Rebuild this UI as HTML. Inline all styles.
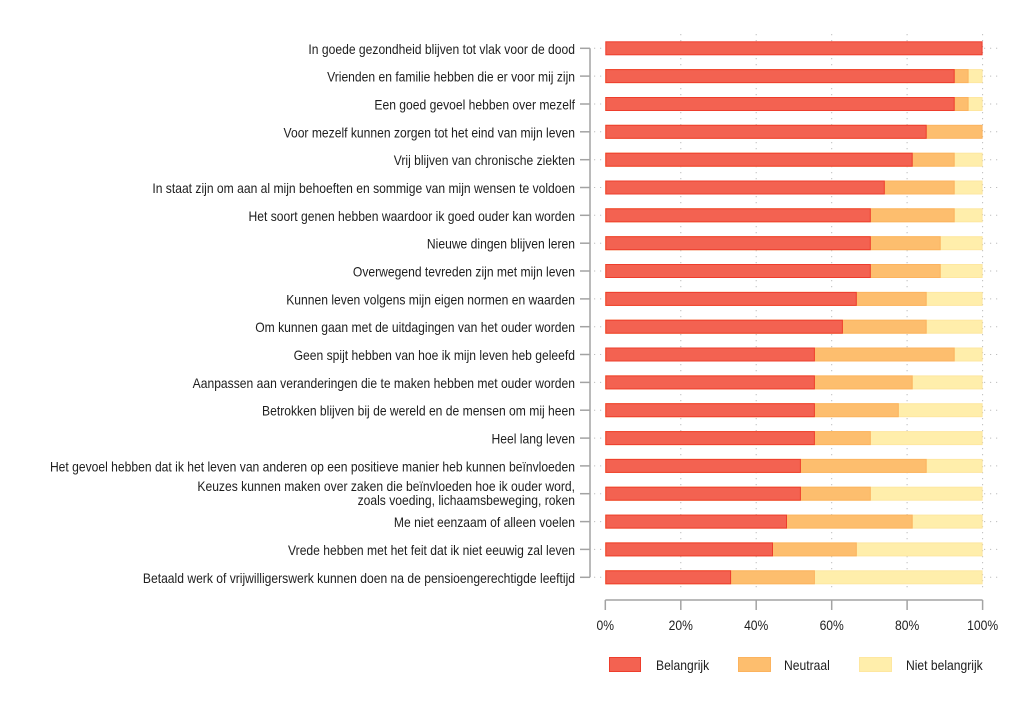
<!DOCTYPE html>
<html><head><meta charset="utf-8"><style>
html,body{margin:0;padding:0;background:#fff;}
svg{display:block;}
text{font-family:"Liberation Sans",Arial,sans-serif;font-size:14px;fill:#1e1e1e;}
</style></head><body>
<svg width="1024" height="717" viewBox="0 0 1024 717" xmlns="http://www.w3.org/2000/svg">
<rect width="1024" height="717" fill="#fff"/>
<!-- vertical grid -->
<g stroke="#bdbdbd" stroke-width="1" stroke-dasharray="1.2 4.8">
<line x1="680.8" y1="34" x2="680.8" y2="592"/>
<line x1="756.2" y1="34" x2="756.2" y2="592"/>
<line x1="831.7" y1="34" x2="831.7" y2="592"/>
<line x1="907.1" y1="34" x2="907.1" y2="592"/>
<line x1="982.6" y1="34" x2="982.6" y2="592"/>
</g>
<!-- horizontal grid -->
<g stroke="#bdbdbd" stroke-width="1" stroke-dasharray="1.2 4.8">
<line x1="594" y1="48.3" x2="1002" y2="48.3"/>
<line x1="594" y1="76.1" x2="1002" y2="76.1"/>
<line x1="594" y1="104.0" x2="1002" y2="104.0"/>
<line x1="594" y1="131.8" x2="1002" y2="131.8"/>
<line x1="594" y1="159.7" x2="1002" y2="159.7"/>
<line x1="594" y1="187.5" x2="1002" y2="187.5"/>
<line x1="594" y1="215.3" x2="1002" y2="215.3"/>
<line x1="594" y1="243.2" x2="1002" y2="243.2"/>
<line x1="594" y1="271.0" x2="1002" y2="271.0"/>
<line x1="594" y1="298.9" x2="1002" y2="298.9"/>
<line x1="594" y1="326.7" x2="1002" y2="326.7"/>
<line x1="594" y1="354.5" x2="1002" y2="354.5"/>
<line x1="594" y1="382.4" x2="1002" y2="382.4"/>
<line x1="594" y1="410.2" x2="1002" y2="410.2"/>
<line x1="594" y1="438.1" x2="1002" y2="438.1"/>
<line x1="594" y1="465.9" x2="1002" y2="465.9"/>
<line x1="594" y1="493.7" x2="1002" y2="493.7"/>
<line x1="594" y1="521.6" x2="1002" y2="521.6"/>
<line x1="594" y1="549.4" x2="1002" y2="549.4"/>
<line x1="594" y1="577.3" x2="1002" y2="577.3"/>
</g>

<!-- light (Niet belangrijk) segments -->
<g fill="#ffeeab" stroke="#fee7a0" stroke-width="1">
<rect x="605.8" y="69.6" width="376.3" height="13"/>
<rect x="605.8" y="97.5" width="376.3" height="13"/>
<rect x="605.8" y="153.2" width="376.3" height="13"/>
<rect x="605.8" y="181.0" width="376.3" height="13"/>
<rect x="605.8" y="208.8" width="376.3" height="13"/>
<rect x="605.8" y="236.7" width="376.3" height="13"/>
<rect x="605.8" y="264.5" width="376.3" height="13"/>
<rect x="605.8" y="292.4" width="376.3" height="13"/>
<rect x="605.8" y="320.2" width="376.3" height="13"/>
<rect x="605.8" y="348.0" width="376.3" height="13"/>
<rect x="605.8" y="375.9" width="376.3" height="13"/>
<rect x="605.8" y="403.7" width="376.3" height="13"/>
<rect x="605.8" y="431.6" width="376.3" height="13"/>
<rect x="605.8" y="459.4" width="376.3" height="13"/>
<rect x="605.8" y="487.2" width="376.3" height="13"/>
<rect x="605.8" y="515.1" width="376.3" height="13"/>
<rect x="605.8" y="542.9" width="376.3" height="13"/>
<rect x="605.8" y="570.8" width="376.3" height="13"/>
</g>

<!-- orange (Neutraal) segments -->
<g fill="#fdbe6e" stroke="#fcb35e" stroke-width="1">
<rect x="605.8" y="69.6" width="362.3" height="13"/>
<rect x="605.8" y="97.5" width="362.3" height="13"/>
<rect x="605.8" y="125.3" width="376.3" height="13"/>
<rect x="605.8" y="153.2" width="348.4" height="13"/>
<rect x="605.8" y="181.0" width="348.4" height="13"/>
<rect x="605.8" y="208.8" width="348.4" height="13"/>
<rect x="605.8" y="236.7" width="334.4" height="13"/>
<rect x="605.8" y="264.5" width="334.4" height="13"/>
<rect x="605.8" y="292.4" width="320.4" height="13"/>
<rect x="605.8" y="320.2" width="320.4" height="13"/>
<rect x="605.8" y="348.0" width="348.4" height="13"/>
<rect x="605.8" y="375.9" width="306.4" height="13"/>
<rect x="605.8" y="403.7" width="292.5" height="13"/>
<rect x="605.8" y="431.6" width="264.5" height="13"/>
<rect x="605.8" y="459.4" width="320.4" height="13"/>
<rect x="605.8" y="487.2" width="264.5" height="13"/>
<rect x="605.8" y="515.1" width="306.4" height="13"/>
<rect x="605.8" y="542.9" width="250.5" height="13"/>
<rect x="605.8" y="570.8" width="208.6" height="13"/>
</g>

<!-- red (Belangrijk) segments -->
<g fill="#f36251" stroke="#ee3d2c" stroke-width="1">
<rect x="605.8" y="41.8" width="376.3" height="13"/>
<rect x="605.8" y="69.6" width="348.4" height="13"/>
<rect x="605.8" y="97.5" width="348.4" height="13"/>
<rect x="605.8" y="125.3" width="320.4" height="13"/>
<rect x="605.8" y="153.2" width="306.4" height="13"/>
<rect x="605.8" y="181.0" width="278.5" height="13"/>
<rect x="605.8" y="208.8" width="264.5" height="13"/>
<rect x="605.8" y="236.7" width="264.5" height="13"/>
<rect x="605.8" y="264.5" width="264.5" height="13"/>
<rect x="605.8" y="292.4" width="250.5" height="13"/>
<rect x="605.8" y="320.2" width="236.6" height="13"/>
<rect x="605.8" y="348.0" width="208.6" height="13"/>
<rect x="605.8" y="375.9" width="208.6" height="13"/>
<rect x="605.8" y="403.7" width="208.6" height="13"/>
<rect x="605.8" y="431.6" width="208.6" height="13"/>
<rect x="605.8" y="459.4" width="194.6" height="13"/>
<rect x="605.8" y="487.2" width="194.6" height="13"/>
<rect x="605.8" y="515.1" width="180.7" height="13"/>
<rect x="605.8" y="542.9" width="166.7" height="13"/>
<rect x="605.8" y="570.8" width="124.8" height="13"/>
</g>

<!-- left axis -->
<g stroke="#a3a3a3" stroke-width="1.5" fill="none">
<line x1="590" y1="48.3" x2="590" y2="577.3"/>
<line x1="580" y1="48.3" x2="590" y2="48.3"/>
<line x1="580" y1="76.1" x2="590" y2="76.1"/>
<line x1="580" y1="104.0" x2="590" y2="104.0"/>
<line x1="580" y1="131.8" x2="590" y2="131.8"/>
<line x1="580" y1="159.7" x2="590" y2="159.7"/>
<line x1="580" y1="187.5" x2="590" y2="187.5"/>
<line x1="580" y1="215.3" x2="590" y2="215.3"/>
<line x1="580" y1="243.2" x2="590" y2="243.2"/>
<line x1="580" y1="271.0" x2="590" y2="271.0"/>
<line x1="580" y1="298.9" x2="590" y2="298.9"/>
<line x1="580" y1="326.7" x2="590" y2="326.7"/>
<line x1="580" y1="354.5" x2="590" y2="354.5"/>
<line x1="580" y1="382.4" x2="590" y2="382.4"/>
<line x1="580" y1="410.2" x2="590" y2="410.2"/>
<line x1="580" y1="438.1" x2="590" y2="438.1"/>
<line x1="580" y1="465.9" x2="590" y2="465.9"/>
<line x1="580" y1="493.7" x2="590" y2="493.7"/>
<line x1="580" y1="521.6" x2="590" y2="521.6"/>
<line x1="580" y1="549.4" x2="590" y2="549.4"/>
<line x1="580" y1="577.3" x2="590" y2="577.3"/>
</g>

<!-- bottom axis -->
<g stroke="#a3a3a3" stroke-width="1.5" fill="none">
<line x1="605.3" y1="600" x2="982.6" y2="600"/>
<line x1="605.3" y1="600" x2="605.3" y2="610"/>
<line x1="680.8" y1="600" x2="680.8" y2="610"/>
<line x1="756.2" y1="600" x2="756.2" y2="610"/>
<line x1="831.7" y1="600" x2="831.7" y2="610"/>
<line x1="907.1" y1="600" x2="907.1" y2="610"/>
<line x1="982.6" y1="600" x2="982.6" y2="610"/>
</g>
<g text-anchor="middle">
<text transform="translate(605.3,630) scale(0.866,1)">0%</text>
<text transform="translate(680.8,630) scale(0.866,1)">20%</text>
<text transform="translate(756.2,630) scale(0.866,1)">40%</text>
<text transform="translate(831.7,630) scale(0.866,1)">60%</text>
<text transform="translate(907.1,630) scale(0.866,1)">80%</text>
<text transform="translate(982.6,630) scale(0.866,1)">100%</text>
</g>

<!-- category labels -->
<g text-anchor="end" transform="translate(575,0) scale(0.866,1)">
<text x="0" y="53.8">In goede gezondheid blijven tot vlak voor de dood</text>
<text x="0" y="81.6">Vrienden en familie hebben die er voor mij zijn</text>
<text x="0" y="109.5">Een goed gevoel hebben over mezelf</text>
<text x="0" y="137.3">Voor mezelf kunnen zorgen tot het eind van mijn leven</text>
<text x="0" y="165.2">Vrij blijven van chronische ziekten</text>
<text x="0" y="193.0">In staat zijn om aan al mijn behoeften en sommige van mijn wensen te voldoen</text>
<text x="0" y="220.8">Het soort genen hebben waardoor ik goed ouder kan worden</text>
<text x="0" y="248.7">Nieuwe dingen blijven leren</text>
<text x="0" y="276.5">Overwegend tevreden zijn met mijn leven</text>
<text x="0" y="304.4">Kunnen leven volgens mijn eigen normen en waarden</text>
<text x="0" y="332.2">Om kunnen gaan met de uitdagingen van het ouder worden</text>
<text x="0" y="360.0">Geen spijt hebben van hoe ik mijn leven heb geleefd</text>
<text x="0" y="387.9">Aanpassen aan veranderingen die te maken hebben met ouder worden</text>
<text x="0" y="415.7">Betrokken blijven bij de wereld en de mensen om mij heen</text>
<text x="0" y="443.6">Heel lang leven</text>
<text x="0" y="471.4">Het gevoel hebben dat ik het leven van anderen op een positieve manier heb kunnen beïnvloeden</text>
<text x="0" y="491.0">Keuzes kunnen maken over zaken die beïnvloeden hoe ik ouder word,</text>
<text x="0" y="505.0">zoals voeding, lichaamsbeweging, roken</text>
<text x="0" y="527.1">Me niet eenzaam of alleen voelen</text>
<text x="0" y="554.9">Vrede hebben met het feit dat ik niet eeuwig zal leven</text>
<text x="0" y="582.8">Betaald werk of vrijwilligerswerk kunnen doen na de pensioengerechtigde leeftijd</text>
</g>

<!-- legend -->
<rect x="609.5" y="657.5" width="31" height="14" fill="#f36251" stroke="#ee3d2c" stroke-width="1"/>
<text transform="translate(656,670) scale(0.866,1)">Belangrijk</text>
<rect x="738.5" y="657.5" width="32" height="14" fill="#fdbe6e" stroke="#fcb35e" stroke-width="1"/>
<text transform="translate(784,670) scale(0.866,1)">Neutraal</text>
<rect x="859.5" y="657.5" width="32" height="14" fill="#ffeeab" stroke="#fee7a0" stroke-width="1"/>
<text transform="translate(906,670) scale(0.866,1)">Niet belangrijk</text>
</svg>
</body></html>
